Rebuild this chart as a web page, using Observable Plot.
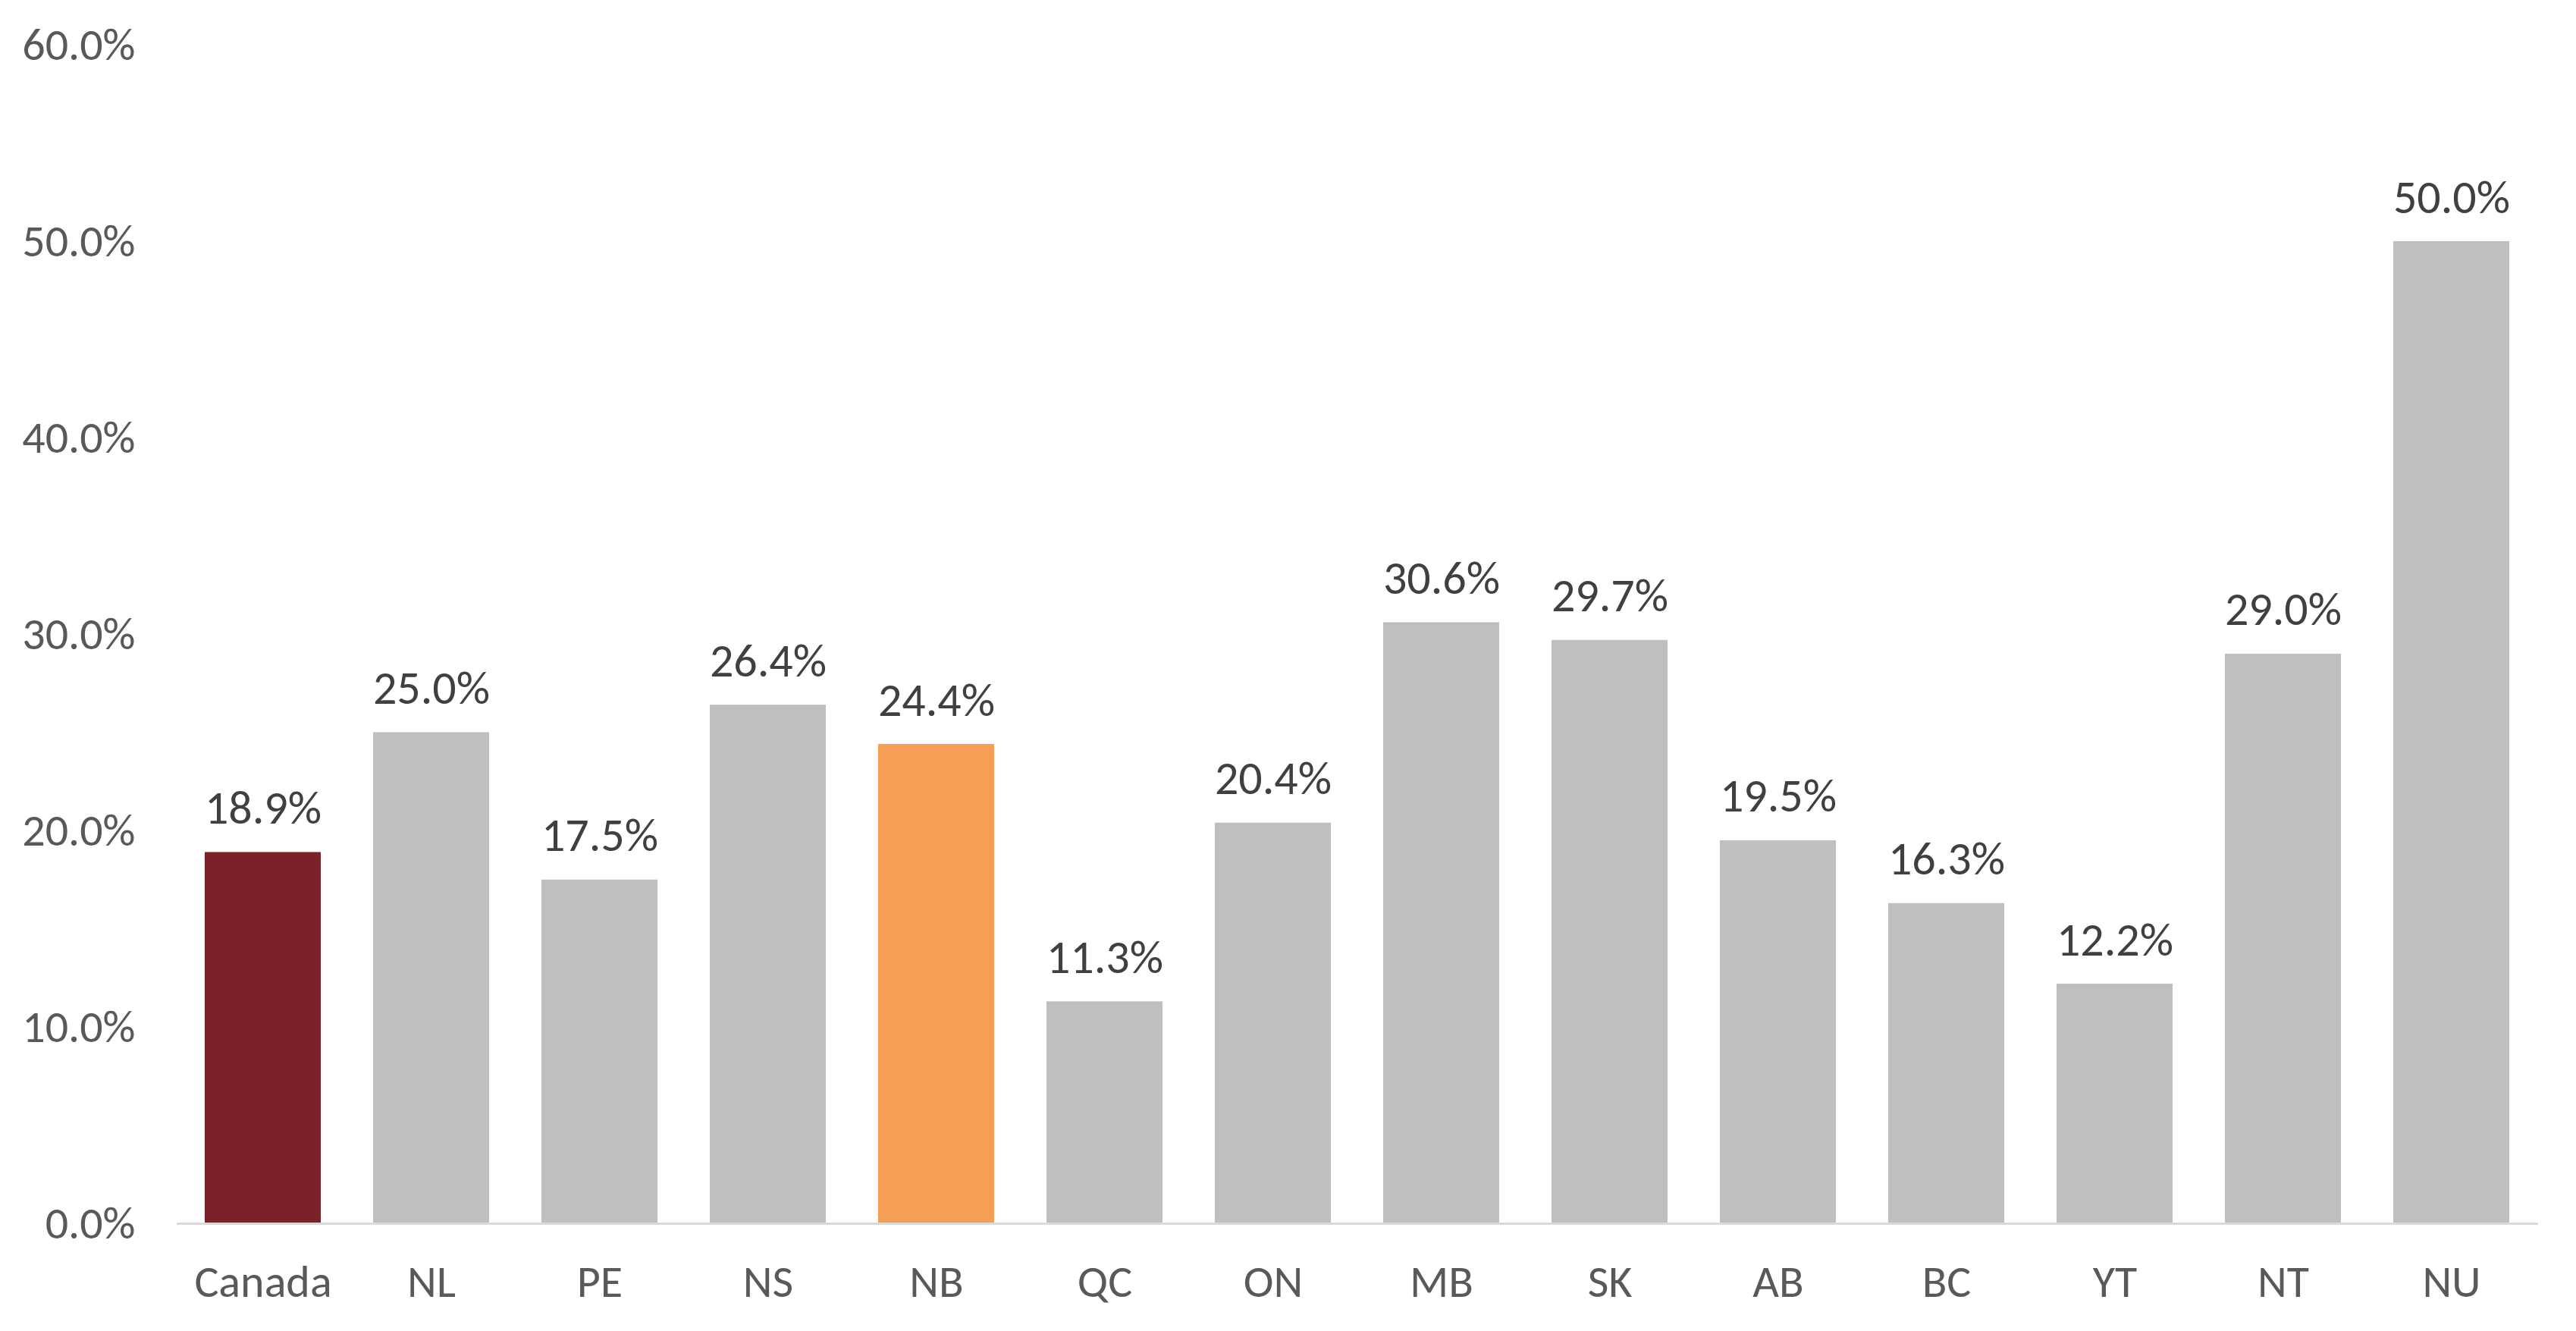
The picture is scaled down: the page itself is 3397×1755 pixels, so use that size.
<!DOCTYPE html>
<html>
<head>
<meta charset="utf-8">
<script src="https://cdn.jsdelivr.net/npm/d3@7"></script>
<script src="https://cdn.jsdelivr.net/npm/@observablehq/plot@0.6"></script>
<style>
  html, body { margin: 0; padding: 0; background: #ffffff; }
  #chart svg { display: block; }
</style>
</head>
<body>
<div id="chart"></div>
<script>
const regions = ["Canada", "NL", "PE", "NS", "NB", "QC", "ON", "MB", "SK", "AB", "BC", "YT", "NT", "NU"];
const values = [0.189, 0.250, 0.175, 0.264, 0.244, 0.113, 0.204, 0.306, 0.297, 0.195, 0.163, 0.122, 0.290, 0.500];
const barColors = ["#7B2129", "#BFBFBF", "#BFBFBF", "#BFBFBF", "#F59E55", "#BFBFBF", "#BFBFBF", "#BFBFBF", "#BFBFBF", "#BFBFBF", "#BFBFBF", "#BFBFBF", "#BFBFBF", "#BFBFBF"];
const yTicks = [0, 0.1, 0.2, 0.3, 0.4, 0.5, 0.6];

const data = regions.map((r, i) => ({region: r, value: values[i], color: barColors[i]}));
const font = "Carlito, Calibri, 'Open Sans', sans-serif";

const chart = Plot.plot({
  width: 3397,
  height: 1755,
  marginLeft: 233,
  marginRight: 50,
  marginTop: 59,
  marginBottom: 142,
  style: {fontFamily: font, background: "#ffffff"},
  x: {domain: regions, paddingInner: 0.31, paddingOuter: 0.155, label: null},
  y: {domain: [0, 0.6], label: null},
  marks: [
    Plot.barY(data, {x: "region", y: "value", fill: "color"}),
    Plot.ruleY([0], {stroke: "#D9D9D9", strokeWidth: 3}),
    Plot.text(data, {
      x: "region", y: "value",
      text: d => d3.format(".1%")(d.value),
      lineAnchor: "bottom", dy: -38,
      fontSize: 62, fill: "#404040", fontFamily: font
    }),
    Plot.axisY({
      ticks: yTicks, tickFormat: d3.format(".1%"), tickSize: 0, tickPadding: 55,
      fontSize: 60, color: "#595959", label: null, fontFamily: font
    }),
    Plot.axisX({
      tickSize: 0, tickPadding: 54, fontSize: 60, color: "#595959", label: null, fontFamily: font
    })
  ]
});
document.getElementById("chart").appendChild(chart);
</script>
</body>
</html>
